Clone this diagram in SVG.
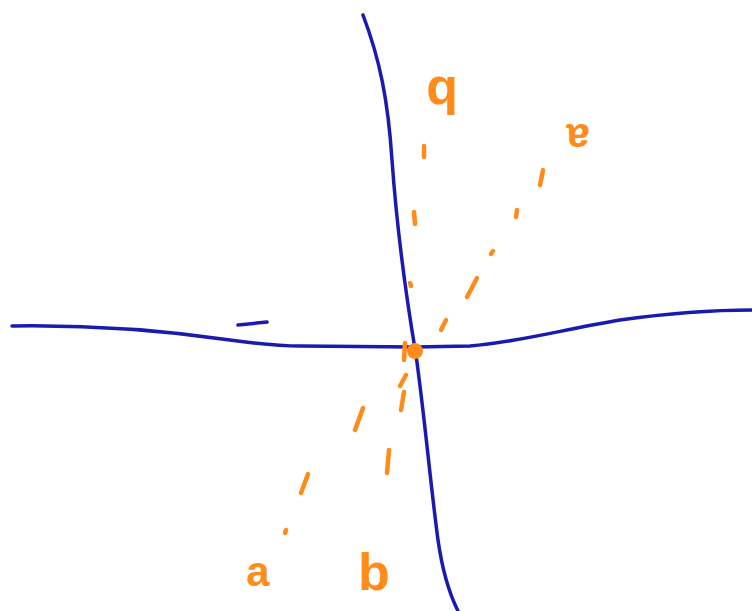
<svg xmlns="http://www.w3.org/2000/svg" width="752" height="611" viewBox="0 0 752 611">
<style>
.ax{fill:none;stroke:#1a1ab0;stroke-width:3.5;stroke-linecap:round}
.d{fill:none;stroke:#ff8c1a;stroke-width:4.5;stroke-linecap:round}
.lbl{font-family:"Liberation Sans",Arial,sans-serif;font-weight:bold;fill:#ff8c1a;text-anchor:middle}
</style>
<rect width="752" height="611" fill="#fff"/>
<g id="axes">
<path class="ax" d="M363,15 C380,60 388,100 392,160 C397,230 405,290 416,355 C425,420 430,480 438,540 C443,575 450,595 458,611"/>
<path class="ax" d="M12,326 C80,325 160,330 230,340 C260,344 280,346 300,346 L415,347 L470,346 C520,342 560,330 620,320 C670,313 710,310 752,310"/>
<path class="ax" d="M238,325 L267,322"/>
</g>
<g id="connectors">
<path class="d" d="M424,146 L424,157"/>
<path class="d" d="M414,212 L415,224"/>
<path class="d" d="M410,283 L411,286"/>
<path class="d" d="M405,343 L404,360"/>
<path class="d" d="M543,170 L540,185"/>
<path class="d" d="M517,210 L516,217"/>
<path class="d" d="M493,251 L491,254"/>
<path class="d" d="M477,278 L467,297"/>
<path class="d" d="M446,320 L441,330"/>
<path class="d" d="M406,375 L400,386"/>
<path class="d" d="M404,392 L401,410"/>
<path class="d" d="M363,408 L355,430"/>
<path class="d" d="M389,450 L387,473"/>
<path class="d" d="M308,474 L301,493"/>
<path class="d" d="M286,530 L285,533"/>
</g>
<g id="origin"><circle cx="415" cy="351" r="8" fill="#ff8c1a"/></g>
<g id="label-a"><text class="lbl" x="258" y="586" font-size="42">a</text></g>
<g id="label-b"><text class="lbl" x="374" y="590" font-size="52">b</text></g>
<g id="label-b-prime"><text class="lbl" font-size="52" transform="translate(442,77) rotate(180)" x="0" y="0">b</text></g>
<g id="label-a-prime"><text class="lbl" font-size="42" transform="translate(578,124) rotate(180)" x="0" y="0">a</text></g>
</svg>
